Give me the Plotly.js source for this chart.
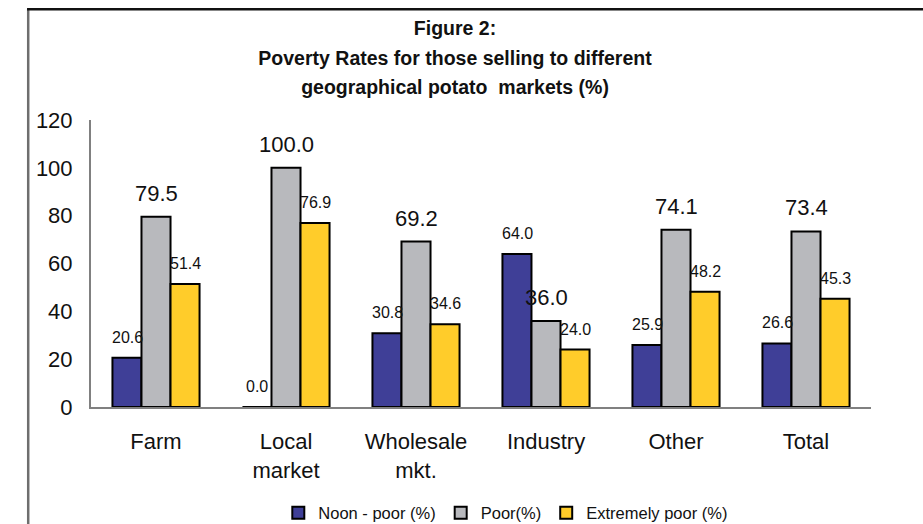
<!DOCTYPE html>
<html>
<head>
<meta charset="utf-8">
<script src="https://cdn.plot.ly/plotly-3.0.1.min.js"></script>
<style>
  html, body { margin: 0; padding: 0; background: #fff; }
  #chart { width: 923px; height: 524px; }
</style>
</head>
<body>
<div id="chart"></div>
<script>
const categories = ["Farm", "Local<br>market", "Wholesale<br>mkt.", "Industry", "Other", "Total"];
const seriesNames = ["Noon - poor (%)", "Poor(%)", "Extremely poor (%)"];
const nonPoor = [20.6, 0.0, 30.8, 64.0, 25.9, 26.6];
const poor = [79.5, 100.0, 69.2, 36.0, 74.1, 73.4];
const extremelyPoor = [51.4, 76.9, 34.6, 24.0, 48.2, 45.3];
const yTicks = [0, 20, 40, 60, 80, 100, 120];
const titleLines = ["Figure 2:", "Poverty Rates for those selling to different", "geographical potato  markets (%)"];

const seriesValues = [nonPoor, poor, extremelyPoor];
const colors = ["#3F3F97", "#B8B9BD", "#FFCC2A"];
const labelSizes = [16, 22, 16];
const xShifts = [-29, 0, 29];
const yShifts = [10, 9, 10];

const font = "Liberation Sans, Arial, sans-serif";

const traces = seriesValues.map((vals, i) => ({
  type: "bar",
  name: seriesNames[i],
  x: categories,
  y: vals,
  marker: { color: colors[i], line: { color: "#000000", width: 2 } },
  hoverinfo: "x+y"
}));

const annotations = [];
seriesValues.forEach((vals, i) => {
  vals.forEach((v, j) => {
    annotations.push({
      x: categories[j], y: v, xref: "x", yref: "y",
      text: v.toFixed(1), showarrow: false,
      xanchor: "center", yanchor: "bottom",
      xshift: xShifts[i], yshift: yShifts[i],
      font: { family: font, size: labelSizes[i], color: "#111111" }
    });
  });
});

const titleText = titleLines
  .map(t => '<span style="font-size:19.5px"><b>' + t + '</b></span>')
  .join("<br>");

const layout = {
  width: 923, height: 524,
  margin: { l: 91, r: 52, t: 120, b: 117 },
  paper_bgcolor: "#ffffff", plot_bgcolor: "#ffffff",
  barmode: "group", bargap: 0.33, bargroupgap: 0,
  font: { family: font, color: "#111111" },
  title: {
    text: titleText,
    font: { family: font, size: 22.7, color: "#111111" },
    x: 0.493, xref: "container", xanchor: "center",
    y: 0.933, yref: "container", yanchor: "middle"
  },
  xaxis: {
    type: "category",
    showgrid: false, zeroline: false,
    showline: true, linecolor: "#808080", linewidth: 2,
    ticks: "outside", ticklen: 14, tickcolor: "rgba(0,0,0,0)",
    tickfont: { family: font, size: 22, color: "#111111" },
    automargin: false
  },
  yaxis: {
    range: [0, 120], tickvals: yTicks, ticktext: yTicks.map(String),
    showgrid: false, zeroline: false,
    showline: true, linecolor: "#808080", linewidth: 2,
    ticks: "outside", ticklen: 12, tickcolor: "rgba(0,0,0,0)",
    tickfont: { family: font, size: 22, color: "#111111" },
    automargin: false
  },
  showlegend: true,
  legend: {
    orientation: "h", x: 0.548, xref: "container", xanchor: "center",
    y: 0.021, yref: "container", yanchor: "middle",
    font: { family: font, size: 16.5, color: "#111111" },
    itemwidth: 30, tracegroupgap: 0, bgcolor: "rgba(0,0,0,0)"
  },
  annotations: annotations,
  shapes: [
    { type: "line", xref: "paper", yref: "paper", x0: -0.0805, x1: -0.0805, y0: 1.386, y1: -0.45,
      line: { color: "#6E6E6E", width: 2.5 } },
    { type: "line", xref: "paper", yref: "paper", x0: -0.082, x1: 1.08, y0: 1.386, y1: 1.386,
      line: { color: "#111111", width: 2.5 } }
  ]
};

Plotly.newPlot("chart", traces, layout, { displayModeBar: false, staticPlot: true });
</script>
</body>
</html>
